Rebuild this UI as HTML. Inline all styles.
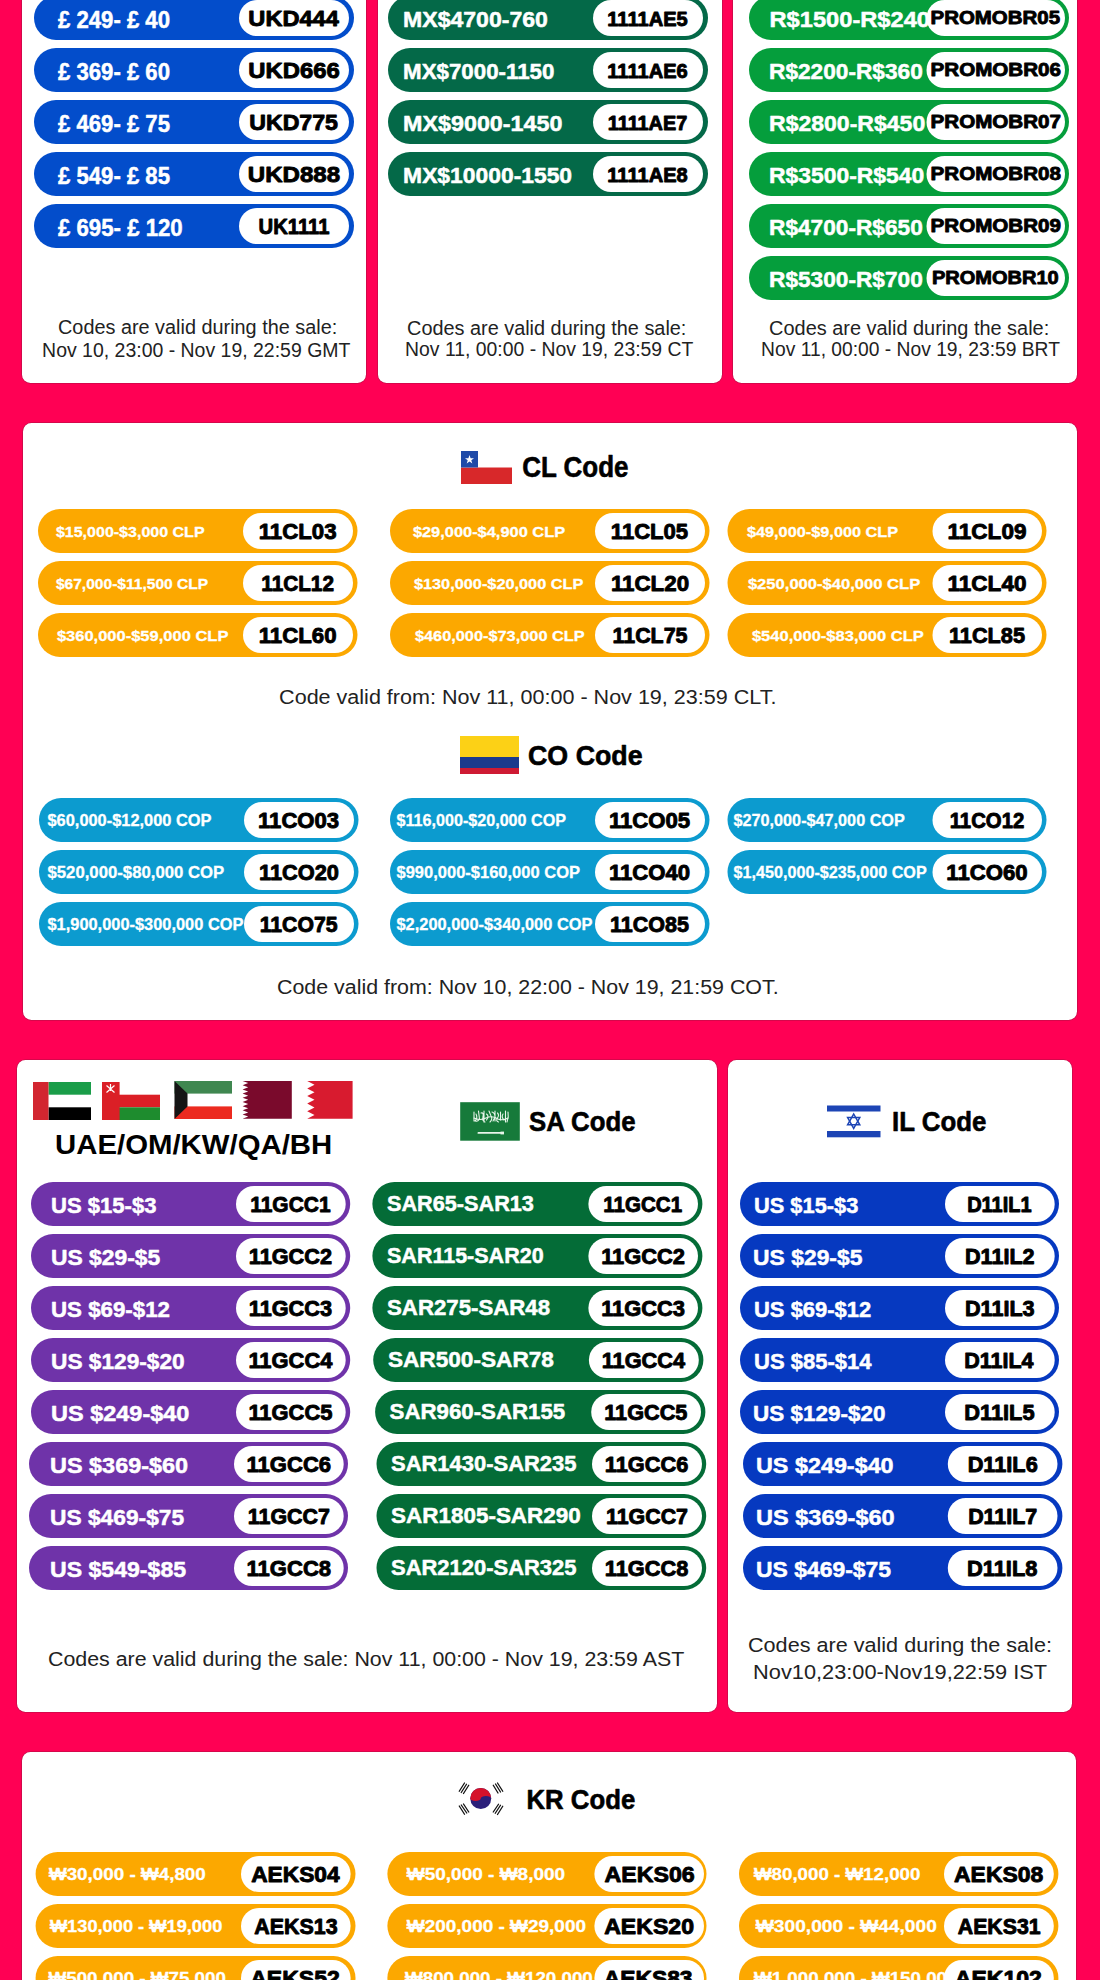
<!DOCTYPE html><html><head><meta charset="utf-8"><style>html,body{margin:0;padding:0;background:#FF0054;}svg{display:block;}text{font-family:"Liberation Sans",sans-serif;}</style></head><body>
<svg width="1100" height="1980" viewBox="0 0 1100 1980">
<rect width="1100" height="1980" fill="#FF0054"/>
<rect x="21.2" y="-30.8" width="345.6" height="414.6" rx="9.3" fill="#C80A48"/>
<rect x="22" y="-30" width="344" height="413" rx="8.5" fill="#fff"/>
<rect x="377.2" y="-30.8" width="345.6" height="414.6" rx="9.3" fill="#C80A48"/>
<rect x="378" y="-30" width="344" height="413" rx="8.5" fill="#fff"/>
<rect x="732.2" y="-30.8" width="345.6" height="414.6" rx="9.3" fill="#C80A48"/>
<rect x="733" y="-30" width="344" height="413" rx="8.5" fill="#fff"/>
<rect x="34.0" y="-4.0" width="320.0" height="44" rx="22.0" fill="#034DCB"/>
<text x="58.0" y="27.6" font-size="24.42" font-weight="700" fill="#fff" textLength="112.0" lengthAdjust="spacingAndGlyphs" stroke="#fff" stroke-width="0.5" stroke-linejoin="round">£ 249- £ 40</text>
<rect x="239.0" y="0.0" width="110.0" height="36" rx="18.0" fill="#fff"/>
<text x="293.6" y="26.0" font-size="22.09" font-weight="700" fill="#000" textLength="90.5" lengthAdjust="spacingAndGlyphs" text-anchor="middle" stroke="#000" stroke-width="0.9" stroke-linejoin="round">UKD444</text>
<rect x="34.0" y="48.0" width="320.0" height="44" rx="22.0" fill="#034DCB"/>
<text x="58.0" y="79.6" font-size="24.42" font-weight="700" fill="#fff" textLength="112.0" lengthAdjust="spacingAndGlyphs" stroke="#fff" stroke-width="0.5" stroke-linejoin="round">£ 369- £ 60</text>
<rect x="239.0" y="52.0" width="110.0" height="36" rx="18.0" fill="#fff"/>
<text x="294.0" y="78.0" font-size="22.09" font-weight="700" fill="#000" textLength="91.4" lengthAdjust="spacingAndGlyphs" text-anchor="middle" stroke="#000" stroke-width="0.9" stroke-linejoin="round">UKD666</text>
<rect x="34.0" y="100.0" width="320.0" height="44" rx="22.0" fill="#034DCB"/>
<text x="58.0" y="131.6" font-size="24.42" font-weight="700" fill="#fff" textLength="112.0" lengthAdjust="spacingAndGlyphs" stroke="#fff" stroke-width="0.5" stroke-linejoin="round">£ 469- £ 75</text>
<rect x="239.0" y="104.0" width="110.0" height="36" rx="18.0" fill="#fff"/>
<text x="293.6" y="130.0" font-size="22.09" font-weight="700" fill="#000" textLength="88.7" lengthAdjust="spacingAndGlyphs" text-anchor="middle" stroke="#000" stroke-width="0.9" stroke-linejoin="round">UKD775</text>
<rect x="34.0" y="152.0" width="320.0" height="44" rx="22.0" fill="#034DCB"/>
<text x="58.0" y="183.6" font-size="24.42" font-weight="700" fill="#fff" textLength="112.0" lengthAdjust="spacingAndGlyphs" stroke="#fff" stroke-width="0.5" stroke-linejoin="round">£ 549- £ 85</text>
<rect x="239.0" y="156.0" width="110.0" height="36" rx="18.0" fill="#fff"/>
<text x="294.0" y="182.0" font-size="22.09" font-weight="700" fill="#000" textLength="92.3" lengthAdjust="spacingAndGlyphs" text-anchor="middle" stroke="#000" stroke-width="0.9" stroke-linejoin="round">UKD888</text>
<rect x="34.0" y="204.0" width="320.0" height="44" rx="22.0" fill="#034DCB"/>
<text x="58.0" y="235.6" font-size="24.42" font-weight="700" fill="#fff" textLength="124.7" lengthAdjust="spacingAndGlyphs" stroke="#fff" stroke-width="0.5" stroke-linejoin="round">£ 695- £ 120</text>
<rect x="239.0" y="208.0" width="110.0" height="36" rx="18.0" fill="#fff"/>
<text x="294.0" y="234.0" font-size="22.09" font-weight="700" fill="#000" textLength="71.0" lengthAdjust="spacingAndGlyphs" text-anchor="middle" stroke="#000" stroke-width="0.9" stroke-linejoin="round">UK1111</text>
<rect x="388.0" y="-4.0" width="320.0" height="44" rx="22.0" fill="#046948"/>
<text x="403.1" y="27.0" font-size="21.37" font-weight="700" fill="#fff" textLength="144.8" lengthAdjust="spacingAndGlyphs" stroke="#fff" stroke-width="0.5" stroke-linejoin="round">MX$4700-760</text>
<rect x="593.0" y="0.0" width="110.0" height="36" rx="18.0" fill="#fff"/>
<text x="647.5" y="25.6" font-size="20.20" font-weight="700" fill="#000" textLength="80.4" lengthAdjust="spacingAndGlyphs" text-anchor="middle" stroke="#000" stroke-width="0.9" stroke-linejoin="round">1111AE5</text>
<rect x="388.0" y="48.0" width="320.0" height="44" rx="22.0" fill="#046948"/>
<text x="403.1" y="79.0" font-size="21.37" font-weight="700" fill="#fff" textLength="151.3" lengthAdjust="spacingAndGlyphs" stroke="#fff" stroke-width="0.5" stroke-linejoin="round">MX$7000-1150</text>
<rect x="593.0" y="52.0" width="110.0" height="36" rx="18.0" fill="#fff"/>
<text x="647.5" y="77.6" font-size="20.20" font-weight="700" fill="#000" textLength="80.4" lengthAdjust="spacingAndGlyphs" text-anchor="middle" stroke="#000" stroke-width="0.9" stroke-linejoin="round">1111AE6</text>
<rect x="388.0" y="100.0" width="320.0" height="44" rx="22.0" fill="#046948"/>
<text x="403.1" y="131.0" font-size="21.37" font-weight="700" fill="#fff" textLength="159.3" lengthAdjust="spacingAndGlyphs" stroke="#fff" stroke-width="0.5" stroke-linejoin="round">MX$9000-1450</text>
<rect x="593.0" y="104.0" width="110.0" height="36" rx="18.0" fill="#fff"/>
<text x="647.5" y="129.6" font-size="20.20" font-weight="700" fill="#000" textLength="79.5" lengthAdjust="spacingAndGlyphs" text-anchor="middle" stroke="#000" stroke-width="0.9" stroke-linejoin="round">1111AE7</text>
<rect x="388.0" y="152.0" width="320.0" height="44" rx="22.0" fill="#046948"/>
<text x="403.1" y="183.0" font-size="21.37" font-weight="700" fill="#fff" textLength="169.0" lengthAdjust="spacingAndGlyphs" stroke="#fff" stroke-width="0.5" stroke-linejoin="round">MX$10000-1550</text>
<rect x="593.0" y="156.0" width="110.0" height="36" rx="18.0" fill="#fff"/>
<text x="647.5" y="181.6" font-size="20.20" font-weight="700" fill="#000" textLength="80.4" lengthAdjust="spacingAndGlyphs" text-anchor="middle" stroke="#000" stroke-width="0.9" stroke-linejoin="round">1111AE8</text>
<rect x="749.0" y="-4.0" width="320.0" height="44" rx="22.0" fill="#059E3C"/>
<text x="769.5" y="26.7" font-size="21.37" font-weight="700" fill="#fff" textLength="160.5" lengthAdjust="spacingAndGlyphs" stroke="#fff" stroke-width="0.5" stroke-linejoin="round">R$1500-R$240</text>
<rect x="926.5" y="0.0" width="138.5" height="36" rx="18.0" fill="#fff"/>
<text x="995.3" y="23.9" font-size="19.04" font-weight="700" fill="#000" textLength="129.5" lengthAdjust="spacingAndGlyphs" text-anchor="middle" stroke="#000" stroke-width="0.9" stroke-linejoin="round">PROMOBR05</text>
<rect x="749.0" y="48.0" width="320.0" height="44" rx="22.0" fill="#059E3C"/>
<text x="769.0" y="78.7" font-size="21.37" font-weight="700" fill="#fff" textLength="153.8" lengthAdjust="spacingAndGlyphs" stroke="#fff" stroke-width="0.5" stroke-linejoin="round">R$2200-R$360</text>
<rect x="926.5" y="52.0" width="138.5" height="36" rx="18.0" fill="#fff"/>
<text x="995.8" y="75.9" font-size="19.04" font-weight="700" fill="#000" textLength="130.4" lengthAdjust="spacingAndGlyphs" text-anchor="middle" stroke="#000" stroke-width="0.9" stroke-linejoin="round">PROMOBR06</text>
<rect x="749.0" y="100.0" width="320.0" height="44" rx="22.0" fill="#059E3C"/>
<text x="769.0" y="130.7" font-size="21.37" font-weight="700" fill="#fff" textLength="156.2" lengthAdjust="spacingAndGlyphs" stroke="#fff" stroke-width="0.5" stroke-linejoin="round">R$2800-R$450</text>
<rect x="926.5" y="104.0" width="138.5" height="36" rx="18.0" fill="#fff"/>
<text x="995.8" y="127.9" font-size="19.04" font-weight="700" fill="#000" textLength="130.4" lengthAdjust="spacingAndGlyphs" text-anchor="middle" stroke="#000" stroke-width="0.9" stroke-linejoin="round">PROMOBR07</text>
<rect x="749.0" y="152.0" width="320.0" height="44" rx="22.0" fill="#059E3C"/>
<text x="769.0" y="182.7" font-size="21.37" font-weight="700" fill="#fff" textLength="155.2" lengthAdjust="spacingAndGlyphs" stroke="#fff" stroke-width="0.5" stroke-linejoin="round">R$3500-R$540</text>
<rect x="926.5" y="156.0" width="138.5" height="36" rx="18.0" fill="#fff"/>
<text x="995.8" y="179.9" font-size="19.04" font-weight="700" fill="#000" textLength="130.4" lengthAdjust="spacingAndGlyphs" text-anchor="middle" stroke="#000" stroke-width="0.9" stroke-linejoin="round">PROMOBR08</text>
<rect x="749.0" y="204.0" width="320.0" height="44" rx="22.0" fill="#059E3C"/>
<text x="769.0" y="234.7" font-size="21.37" font-weight="700" fill="#fff" textLength="153.8" lengthAdjust="spacingAndGlyphs" stroke="#fff" stroke-width="0.5" stroke-linejoin="round">R$4700-R$650</text>
<rect x="926.5" y="208.0" width="138.5" height="36" rx="18.0" fill="#fff"/>
<text x="995.8" y="231.9" font-size="19.04" font-weight="700" fill="#000" textLength="130.4" lengthAdjust="spacingAndGlyphs" text-anchor="middle" stroke="#000" stroke-width="0.9" stroke-linejoin="round">PROMOBR09</text>
<rect x="749.0" y="256.0" width="320.0" height="44" rx="22.0" fill="#059E3C"/>
<text x="769.0" y="286.7" font-size="21.37" font-weight="700" fill="#fff" textLength="153.8" lengthAdjust="spacingAndGlyphs" stroke="#fff" stroke-width="0.5" stroke-linejoin="round">R$5300-R$700</text>
<rect x="926.5" y="260.0" width="138.5" height="36" rx="18.0" fill="#fff"/>
<text x="995.3" y="283.9" font-size="19.04" font-weight="700" fill="#000" textLength="126.8" lengthAdjust="spacingAndGlyphs" text-anchor="middle" stroke="#000" stroke-width="0.9" stroke-linejoin="round">PROMOBR10</text>
<text x="58.0" y="334.0" font-size="19.60" font-weight="400" fill="#222" textLength="279.2" lengthAdjust="spacingAndGlyphs">Codes are valid during the sale:</text>
<text x="42.1" y="356.5" font-size="19.60" font-weight="400" fill="#222" textLength="308.3" lengthAdjust="spacingAndGlyphs">Nov 10, 23:00 - Nov 19, 22:59 GMT</text>
<text x="407.1" y="334.5" font-size="19.60" font-weight="400" fill="#222" textLength="279.3" lengthAdjust="spacingAndGlyphs">Codes are valid during the sale:</text>
<text x="405.1" y="356.3" font-size="19.60" font-weight="400" fill="#222" textLength="288.2" lengthAdjust="spacingAndGlyphs">Nov 11, 00:00 - Nov 19, 23:59 CT</text>
<text x="769.1" y="334.5" font-size="19.60" font-weight="400" fill="#222" textLength="280.1" lengthAdjust="spacingAndGlyphs">Codes are valid during the sale:</text>
<text x="761.1" y="356.3" font-size="19.60" font-weight="400" fill="#222" textLength="298.8" lengthAdjust="spacingAndGlyphs">Nov 11, 00:00 - Nov 19, 23:59 BRT</text>
<rect x="22.2" y="422.2" width="1055.6" height="598.6" rx="9.3" fill="#C80A48"/>
<rect x="23" y="423" width="1054" height="597" rx="8.5" fill="#fff"/>
<g><rect x="461" y="451" width="51" height="33" fill="#fff"/><rect x="461" y="467.5" width="51" height="16.5" fill="#D8282A"/><rect x="461" y="451" width="17" height="16.5" fill="#1F4AA8"/><polygon fill="#fff" points="469.5,455 470.6,458.3 474,458.3 471.3,460.3 472.3,463.5 469.5,461.5 466.7,463.5 467.7,460.3 465,458.3 468.4,458.3"/></g>
<text x="522.2" y="477.3" font-size="28.63" font-weight="700" fill="#000" textLength="106.3" lengthAdjust="spacingAndGlyphs" stroke="#000" stroke-width="0.6" stroke-linejoin="round">CL Code</text>
<rect x="38.0" y="509.0" width="319.5" height="44" rx="22.0" fill="#FCA800"/>
<text x="55.9" y="536.6" font-size="14.68" font-weight="700" fill="#fff" textLength="148.7" lengthAdjust="spacingAndGlyphs" stroke="#fff" stroke-width="0.3" stroke-linejoin="round">$15,000-$3,000 CLP</text>
<rect x="243.0" y="513.0" width="110.0" height="36" rx="18.0" fill="#fff"/>
<text x="297.6" y="539.0" font-size="21.95" font-weight="700" fill="#000" textLength="77.8" lengthAdjust="spacingAndGlyphs" text-anchor="middle" stroke="#000" stroke-width="0.9" stroke-linejoin="round">11CL03</text>
<rect x="38.0" y="561.0" width="319.5" height="44" rx="22.0" fill="#FCA800"/>
<text x="55.9" y="588.6" font-size="14.68" font-weight="700" fill="#fff" textLength="152.3" lengthAdjust="spacingAndGlyphs" stroke="#fff" stroke-width="0.3" stroke-linejoin="round">$67,000-$11,500 CLP</text>
<rect x="243.0" y="565.0" width="110.0" height="36" rx="18.0" fill="#fff"/>
<text x="297.6" y="591.0" font-size="21.95" font-weight="700" fill="#000" textLength="72.7" lengthAdjust="spacingAndGlyphs" text-anchor="middle" stroke="#000" stroke-width="0.9" stroke-linejoin="round">11CL12</text>
<rect x="38.0" y="613.0" width="319.5" height="44" rx="22.0" fill="#FCA800"/>
<text x="56.9" y="640.6" font-size="14.68" font-weight="700" fill="#fff" textLength="171.5" lengthAdjust="spacingAndGlyphs" stroke="#fff" stroke-width="0.3" stroke-linejoin="round">$360,000-$59,000 CLP</text>
<rect x="243.0" y="617.0" width="110.0" height="36" rx="18.0" fill="#fff"/>
<text x="297.6" y="643.0" font-size="21.95" font-weight="700" fill="#000" textLength="77.9" lengthAdjust="spacingAndGlyphs" text-anchor="middle" stroke="#000" stroke-width="0.9" stroke-linejoin="round">11CL60</text>
<rect x="390.0" y="509.0" width="319.5" height="44" rx="22.0" fill="#FCA800"/>
<text x="412.9" y="536.6" font-size="14.68" font-weight="700" fill="#fff" textLength="152.2" lengthAdjust="spacingAndGlyphs" stroke="#fff" stroke-width="0.3" stroke-linejoin="round">$29,000-$4,900 CLP</text>
<rect x="595.0" y="513.0" width="110.0" height="36" rx="18.0" fill="#fff"/>
<text x="649.5" y="539.0" font-size="21.95" font-weight="700" fill="#000" textLength="77.3" lengthAdjust="spacingAndGlyphs" text-anchor="middle" stroke="#000" stroke-width="0.9" stroke-linejoin="round">11CL05</text>
<rect x="390.0" y="561.0" width="319.5" height="44" rx="22.0" fill="#FCA800"/>
<text x="413.9" y="588.6" font-size="14.68" font-weight="700" fill="#fff" textLength="169.5" lengthAdjust="spacingAndGlyphs" stroke="#fff" stroke-width="0.3" stroke-linejoin="round">$130,000-$20,000 CLP</text>
<rect x="595.0" y="565.0" width="110.0" height="36" rx="18.0" fill="#fff"/>
<text x="650.0" y="591.0" font-size="21.95" font-weight="700" fill="#000" textLength="78.2" lengthAdjust="spacingAndGlyphs" text-anchor="middle" stroke="#000" stroke-width="0.9" stroke-linejoin="round">11CL20</text>
<rect x="390.0" y="613.0" width="319.5" height="44" rx="22.0" fill="#FCA800"/>
<text x="414.9" y="640.6" font-size="14.68" font-weight="700" fill="#fff" textLength="169.8" lengthAdjust="spacingAndGlyphs" stroke="#fff" stroke-width="0.3" stroke-linejoin="round">$460,000-$73,000 CLP</text>
<rect x="595.0" y="617.0" width="110.0" height="36" rx="18.0" fill="#fff"/>
<text x="650.0" y="643.0" font-size="21.95" font-weight="700" fill="#000" textLength="75.0" lengthAdjust="spacingAndGlyphs" text-anchor="middle" stroke="#000" stroke-width="0.9" stroke-linejoin="round">11CL75</text>
<rect x="727.5" y="509.0" width="319.0" height="44" rx="22.0" fill="#FCA800"/>
<text x="746.9" y="536.6" font-size="14.68" font-weight="700" fill="#fff" textLength="151.3" lengthAdjust="spacingAndGlyphs" stroke="#fff" stroke-width="0.3" stroke-linejoin="round">$49,000-$9,000 CLP</text>
<rect x="932.5" y="513.0" width="109.5" height="36" rx="18.0" fill="#fff"/>
<text x="987.0" y="539.0" font-size="21.95" font-weight="700" fill="#000" textLength="78.9" lengthAdjust="spacingAndGlyphs" text-anchor="middle" stroke="#000" stroke-width="0.9" stroke-linejoin="round">11CL09</text>
<rect x="727.5" y="561.0" width="319.0" height="44" rx="22.0" fill="#FCA800"/>
<text x="747.9" y="588.6" font-size="14.68" font-weight="700" fill="#fff" textLength="172.4" lengthAdjust="spacingAndGlyphs" stroke="#fff" stroke-width="0.3" stroke-linejoin="round">$250,000-$40,000 CLP</text>
<rect x="932.5" y="565.0" width="109.5" height="36" rx="18.0" fill="#fff"/>
<text x="987.0" y="591.0" font-size="21.95" font-weight="700" fill="#000" textLength="78.9" lengthAdjust="spacingAndGlyphs" text-anchor="middle" stroke="#000" stroke-width="0.9" stroke-linejoin="round">11CL40</text>
<rect x="727.5" y="613.0" width="319.0" height="44" rx="22.0" fill="#FCA800"/>
<text x="751.9" y="640.6" font-size="14.68" font-weight="700" fill="#fff" textLength="171.9" lengthAdjust="spacingAndGlyphs" stroke="#fff" stroke-width="0.3" stroke-linejoin="round">$540,000-$83,000 CLP</text>
<rect x="932.5" y="617.0" width="109.5" height="36" rx="18.0" fill="#fff"/>
<text x="987.0" y="643.0" font-size="21.95" font-weight="700" fill="#000" textLength="76.0" lengthAdjust="spacingAndGlyphs" text-anchor="middle" stroke="#000" stroke-width="0.9" stroke-linejoin="round">11CL85</text>
<text x="279.1" y="704.3" font-size="19.60" font-weight="400" fill="#222" textLength="497.3" lengthAdjust="spacingAndGlyphs">Code valid from: Nov 11, 00:00 - Nov 19, 23:59 CLT.</text>
<g><rect x="460" y="736" width="59" height="21" fill="#FCD116"/><rect x="460" y="757" width="59" height="11" fill="#1B3A8C"/><rect x="460" y="768" width="59" height="6" fill="#CE1A33"/></g>
<text x="528.0" y="765.0" font-size="28.34" font-weight="700" fill="#000" textLength="114.6" lengthAdjust="spacingAndGlyphs" stroke="#000" stroke-width="0.6" stroke-linejoin="round">CO Code</text>
<rect x="39.0" y="798.0" width="319.5" height="44" rx="22.0" fill="#0C9BCF"/>
<text x="47.5" y="825.8" font-size="16.28" font-weight="700" fill="#fff" textLength="164.0" lengthAdjust="spacingAndGlyphs" stroke="#fff" stroke-width="0.3" stroke-linejoin="round">$60,000-$12,000 COP</text>
<rect x="244.0" y="802.0" width="110.0" height="36" rx="18.0" fill="#fff"/>
<text x="298.6" y="828.2" font-size="21.80" font-weight="700" fill="#000" textLength="81.1" lengthAdjust="spacingAndGlyphs" text-anchor="middle" stroke="#000" stroke-width="0.9" stroke-linejoin="round">11CO03</text>
<rect x="39.0" y="850.0" width="319.5" height="44" rx="22.0" fill="#0C9BCF"/>
<text x="47.5" y="877.8" font-size="16.28" font-weight="700" fill="#fff" textLength="176.7" lengthAdjust="spacingAndGlyphs" stroke="#fff" stroke-width="0.3" stroke-linejoin="round">$520,000-$80,000 COP</text>
<rect x="244.0" y="854.0" width="110.0" height="36" rx="18.0" fill="#fff"/>
<text x="299.0" y="880.2" font-size="21.80" font-weight="700" fill="#000" textLength="80.0" lengthAdjust="spacingAndGlyphs" text-anchor="middle" stroke="#000" stroke-width="0.9" stroke-linejoin="round">11CO20</text>
<rect x="39.0" y="902.0" width="319.5" height="44" rx="22.0" fill="#0C9BCF"/>
<text x="47.5" y="929.8" font-size="16.28" font-weight="700" fill="#fff" textLength="195.9" lengthAdjust="spacingAndGlyphs" stroke="#fff" stroke-width="0.3" stroke-linejoin="round">$1,900,000-$300,000 COP</text>
<rect x="244.0" y="906.0" width="110.0" height="36" rx="18.0" fill="#fff"/>
<text x="298.6" y="932.2" font-size="21.80" font-weight="700" fill="#000" textLength="77.8" lengthAdjust="spacingAndGlyphs" text-anchor="middle" stroke="#000" stroke-width="0.9" stroke-linejoin="round">11CO75</text>
<rect x="390.0" y="798.0" width="319.5" height="44" rx="22.0" fill="#0C9BCF"/>
<text x="396.5" y="825.8" font-size="16.28" font-weight="700" fill="#fff" textLength="169.5" lengthAdjust="spacingAndGlyphs" stroke="#fff" stroke-width="0.3" stroke-linejoin="round">$116,000-$20,000 COP</text>
<rect x="595.0" y="802.0" width="110.0" height="36" rx="18.0" fill="#fff"/>
<text x="649.5" y="828.2" font-size="21.80" font-weight="700" fill="#000" textLength="81.2" lengthAdjust="spacingAndGlyphs" text-anchor="middle" stroke="#000" stroke-width="0.9" stroke-linejoin="round">11CO05</text>
<rect x="390.0" y="850.0" width="319.5" height="44" rx="22.0" fill="#0C9BCF"/>
<text x="396.5" y="877.8" font-size="16.28" font-weight="700" fill="#fff" textLength="183.5" lengthAdjust="spacingAndGlyphs" stroke="#fff" stroke-width="0.3" stroke-linejoin="round">$990,000-$160,000 COP</text>
<rect x="595.0" y="854.0" width="110.0" height="36" rx="18.0" fill="#fff"/>
<text x="649.5" y="880.2" font-size="21.80" font-weight="700" fill="#000" textLength="81.2" lengthAdjust="spacingAndGlyphs" text-anchor="middle" stroke="#000" stroke-width="0.9" stroke-linejoin="round">11CO40</text>
<rect x="390.0" y="902.0" width="319.5" height="44" rx="22.0" fill="#0C9BCF"/>
<text x="396.5" y="929.8" font-size="16.28" font-weight="700" fill="#fff" textLength="195.9" lengthAdjust="spacingAndGlyphs" stroke="#fff" stroke-width="0.3" stroke-linejoin="round">$2,200,000-$340,000 COP</text>
<rect x="595.0" y="906.0" width="110.0" height="36" rx="18.0" fill="#fff"/>
<text x="649.5" y="932.2" font-size="21.80" font-weight="700" fill="#000" textLength="78.9" lengthAdjust="spacingAndGlyphs" text-anchor="middle" stroke="#000" stroke-width="0.9" stroke-linejoin="round">11CO85</text>
<rect x="727.5" y="798.0" width="319.0" height="44" rx="22.0" fill="#0C9BCF"/>
<text x="733.5" y="825.8" font-size="16.28" font-weight="700" fill="#fff" textLength="171.3" lengthAdjust="spacingAndGlyphs" stroke="#fff" stroke-width="0.3" stroke-linejoin="round">$270,000-$47,000 COP</text>
<rect x="932.5" y="802.0" width="109.5" height="36" rx="18.0" fill="#fff"/>
<text x="987.0" y="828.2" font-size="21.80" font-weight="700" fill="#000" textLength="74.6" lengthAdjust="spacingAndGlyphs" text-anchor="middle" stroke="#000" stroke-width="0.9" stroke-linejoin="round">11CO12</text>
<rect x="727.5" y="850.0" width="319.0" height="44" rx="22.0" fill="#0C9BCF"/>
<text x="733.5" y="877.8" font-size="16.28" font-weight="700" fill="#fff" textLength="193.2" lengthAdjust="spacingAndGlyphs" stroke="#fff" stroke-width="0.3" stroke-linejoin="round">$1,450,000-$235,000 COP</text>
<rect x="932.5" y="854.0" width="109.5" height="36" rx="18.0" fill="#fff"/>
<text x="987.0" y="880.2" font-size="21.80" font-weight="700" fill="#000" textLength="81.3" lengthAdjust="spacingAndGlyphs" text-anchor="middle" stroke="#000" stroke-width="0.9" stroke-linejoin="round">11CO60</text>
<text x="277.0" y="994.3" font-size="19.60" font-weight="400" fill="#222" textLength="501.6" lengthAdjust="spacingAndGlyphs">Code valid from: Nov 10, 22:00 - Nov 19, 21:59 COT.</text>
<rect x="16.2" y="1059.2" width="701.6" height="653.6" rx="9.3" fill="#C80A48"/>
<rect x="17" y="1060" width="700" height="652" rx="8.5" fill="#fff"/>
<rect x="727.2" y="1059.2" width="345.6" height="653.6" rx="9.3" fill="#C80A48"/>
<rect x="728" y="1060" width="344" height="652" rx="8.5" fill="#fff"/>
<g><rect x="33" y="1082" width="58" height="38" fill="#fff"/><rect x="48.5" y="1082" width="42.5" height="12.7" fill="#1A9D49"/><rect x="48.5" y="1107.3" width="42.5" height="12.7" fill="#000"/><rect x="33" y="1082" width="15.5" height="38" fill="#D22630"/></g>
<g><rect x="102" y="1082" width="58" height="38" fill="#fff"/><rect x="102" y="1094.7" width="58" height="12.6" fill="#DB1F26"/><rect x="102" y="1107.3" width="58" height="12.7" fill="#1E8C2E"/><rect x="102" y="1082" width="17.6" height="38" fill="#DB1F26"/><g stroke="#fff" stroke-width="1.2" fill="none"><path d="M106.5,1085.5 L114.5,1092.5 M114.5,1085.5 L106.5,1092.5 M110.5,1084 L110.5,1091"/></g></g>
<g><rect x="174.5" y="1081" width="57.5" height="38" fill="#fff"/><rect x="174.5" y="1081" width="57.5" height="12.6" fill="#3F8750"/><rect x="174.5" y="1106.4" width="57.5" height="12.6" fill="#EC2A1F"/><polygon points="174.5,1081 187.5,1093.6 187.5,1106.4 174.5,1119" fill="#151515"/></g>
<polygon fill="#7A0A2C" points="291.8,1081 242.60,1081.00 248.20,1083.09 242.60,1085.19 248.20,1087.28 242.60,1089.38 248.20,1091.47 242.60,1093.57 248.20,1095.66 242.60,1097.76 248.20,1099.85 242.60,1101.94 248.20,1104.04 242.60,1106.13 248.20,1108.23 242.60,1110.32 248.20,1112.42 242.60,1114.51 248.20,1116.61 242.60,1118.70 291.8,1118.7"/>
<polygon fill="#D81B2F" points="352.6,1081 307.20,1081.00 314.50,1084.77 307.20,1088.54 314.50,1092.31 307.20,1096.08 314.50,1099.85 307.20,1103.62 314.50,1107.39 307.20,1111.16 314.50,1114.93 307.20,1118.70 352.6,1118.7"/>
<text x="55.1" y="1153.5" font-size="26.89" font-weight="700" fill="#000" textLength="277.1" lengthAdjust="spacingAndGlyphs">UAE/OM/KW/QA/BH</text>
<g><rect x="460.2" y="1102.2" width="59.6" height="38.5" fill="#167A3A"/><g stroke="#E8F5EA" stroke-width="1.1" fill="none" stroke-linecap="round"><path d="M474,1112 l0,9 M476,1114 q2,4 -1,7 M478.5,1111 l1,8 q-2,3 -4,2 M481,1113 q3,-1 2,4 q-1,4 2,5 M484,1111 l0,11 M486.5,1114 q3,2 0,6 M489,1111 l2,5 q2,3 -1,6 M492,1112 q3,1 3,5 l-2,4 M495,1111 l0,10 M497.5,1113 q2,2 0,5 q-2,3 1,4 M500.5,1112 l0,8 M503,1114 q-2,3 1,6 M505.5,1111 l0,11 M508,1112 q1,5 -1,10"/><path d="M474,1118 q6,3 12,0 q6,-3 12,1 q5,2 10,-1"/></g><path d="M478.4,1132.9 L501,1132.9" stroke="#E8F5EA" stroke-width="1.8" stroke-linecap="round"/><rect x="500.5" y="1131.6" width="3.5" height="2.8" fill="#E8F5EA"/></g>
<text x="529.0" y="1131.0" font-size="28.34" font-weight="700" fill="#000" textLength="106.5" lengthAdjust="spacingAndGlyphs" stroke="#000" stroke-width="0.6" stroke-linejoin="round">SA Code</text>
<g><rect x="827" y="1100" width="53.5" height="41" fill="#fff"/><rect x="827" y="1105.5" width="53.5" height="6" fill="#1D45B5"/><rect x="827" y="1131" width="53.5" height="6.3" fill="#1D45B5"/><g fill="none" stroke="#1D45B5" stroke-width="1.5"><polygon points="853.7,1114 859.8,1124.8 847.6,1124.8"/><polygon points="853.7,1128.4 859.8,1117.6 847.6,1117.6"/></g></g>
<text x="892.1" y="1131.0" font-size="28.05" font-weight="700" fill="#000" textLength="94.3" lengthAdjust="spacingAndGlyphs" stroke="#000" stroke-width="0.6" stroke-linejoin="round">IL Code</text>
<rect x="31.0" y="1182.0" width="319.2" height="44" rx="22.0" fill="#6F33A9"/>
<text x="51.0" y="1213.0" font-size="21.95" font-weight="700" fill="#fff" textLength="105.5" lengthAdjust="spacingAndGlyphs" stroke="#fff" stroke-width="0.5" stroke-linejoin="round">US $15-$3</text>
<rect x="236.0" y="1186.0" width="109.7" height="36" rx="18.0" fill="#fff"/>
<text x="290.4" y="1212.3" font-size="22.09" font-weight="700" fill="#000" textLength="80.4" lengthAdjust="spacingAndGlyphs" text-anchor="middle" stroke="#000" stroke-width="0.9" stroke-linejoin="round">11GCC1</text>
<rect x="31.0" y="1234.0" width="319.2" height="44" rx="22.0" fill="#6F33A9"/>
<text x="51.0" y="1265.0" font-size="21.95" font-weight="700" fill="#fff" textLength="109.3" lengthAdjust="spacingAndGlyphs" stroke="#fff" stroke-width="0.5" stroke-linejoin="round">US $29-$5</text>
<rect x="236.0" y="1238.0" width="109.7" height="36" rx="18.0" fill="#fff"/>
<text x="290.4" y="1264.3" font-size="22.09" font-weight="700" fill="#000" textLength="83.3" lengthAdjust="spacingAndGlyphs" text-anchor="middle" stroke="#000" stroke-width="0.9" stroke-linejoin="round">11GCC2</text>
<rect x="31.0" y="1286.0" width="319.2" height="44" rx="22.0" fill="#6F33A9"/>
<text x="51.0" y="1317.0" font-size="21.95" font-weight="700" fill="#fff" textLength="119.0" lengthAdjust="spacingAndGlyphs" stroke="#fff" stroke-width="0.5" stroke-linejoin="round">US $69-$12</text>
<rect x="236.0" y="1290.0" width="109.7" height="36" rx="18.0" fill="#fff"/>
<text x="290.4" y="1316.3" font-size="22.09" font-weight="700" fill="#000" textLength="83.3" lengthAdjust="spacingAndGlyphs" text-anchor="middle" stroke="#000" stroke-width="0.9" stroke-linejoin="round">11GCC3</text>
<rect x="31.0" y="1338.0" width="319.2" height="44" rx="22.0" fill="#6F33A9"/>
<text x="51.0" y="1369.0" font-size="21.95" font-weight="700" fill="#fff" textLength="133.7" lengthAdjust="spacingAndGlyphs" stroke="#fff" stroke-width="0.5" stroke-linejoin="round">US $129-$20</text>
<rect x="236.0" y="1342.0" width="109.7" height="36" rx="18.0" fill="#fff"/>
<text x="290.4" y="1368.3" font-size="22.09" font-weight="700" fill="#000" textLength="84.0" lengthAdjust="spacingAndGlyphs" text-anchor="middle" stroke="#000" stroke-width="0.9" stroke-linejoin="round">11GCC4</text>
<rect x="31.0" y="1390.0" width="319.2" height="44" rx="22.0" fill="#6F33A9"/>
<text x="51.0" y="1421.0" font-size="21.95" font-weight="700" fill="#fff" textLength="138.4" lengthAdjust="spacingAndGlyphs" stroke="#fff" stroke-width="0.5" stroke-linejoin="round">US $249-$40</text>
<rect x="236.0" y="1394.0" width="109.7" height="36" rx="18.0" fill="#fff"/>
<text x="290.4" y="1420.3" font-size="22.09" font-weight="700" fill="#000" textLength="84.0" lengthAdjust="spacingAndGlyphs" text-anchor="middle" stroke="#000" stroke-width="0.9" stroke-linejoin="round">11GCC5</text>
<rect x="29.0" y="1442.0" width="319.0" height="44" rx="22.0" fill="#6F33A9"/>
<text x="50.0" y="1473.0" font-size="21.95" font-weight="700" fill="#fff" textLength="138.1" lengthAdjust="spacingAndGlyphs" stroke="#fff" stroke-width="0.5" stroke-linejoin="round">US $369-$60</text>
<rect x="234.0" y="1446.0" width="109.7" height="36" rx="18.0" fill="#fff"/>
<text x="288.8" y="1472.3" font-size="22.09" font-weight="700" fill="#000" textLength="84.5" lengthAdjust="spacingAndGlyphs" text-anchor="middle" stroke="#000" stroke-width="0.9" stroke-linejoin="round">11GCC6</text>
<rect x="29.0" y="1494.0" width="319.0" height="44" rx="22.0" fill="#6F33A9"/>
<text x="50.0" y="1525.0" font-size="21.95" font-weight="700" fill="#fff" textLength="134.1" lengthAdjust="spacingAndGlyphs" stroke="#fff" stroke-width="0.5" stroke-linejoin="round">US $469-$75</text>
<rect x="234.0" y="1498.0" width="109.7" height="36" rx="18.0" fill="#fff"/>
<text x="288.8" y="1524.3" font-size="22.09" font-weight="700" fill="#000" textLength="82.1" lengthAdjust="spacingAndGlyphs" text-anchor="middle" stroke="#000" stroke-width="0.9" stroke-linejoin="round">11GCC7</text>
<rect x="29.0" y="1546.0" width="319.0" height="44" rx="22.0" fill="#6F33A9"/>
<text x="50.0" y="1577.0" font-size="21.95" font-weight="700" fill="#fff" textLength="136.1" lengthAdjust="spacingAndGlyphs" stroke="#fff" stroke-width="0.5" stroke-linejoin="round">US $549-$85</text>
<rect x="234.0" y="1550.0" width="109.7" height="36" rx="18.0" fill="#fff"/>
<text x="288.8" y="1576.3" font-size="22.09" font-weight="700" fill="#000" textLength="84.5" lengthAdjust="spacingAndGlyphs" text-anchor="middle" stroke="#000" stroke-width="0.9" stroke-linejoin="round">11GCC8</text>
<rect x="372.4" y="1182.0" width="330.0" height="44" rx="22.0" fill="#046C37"/>
<text x="387.0" y="1211.0" font-size="21.37" font-weight="700" fill="#fff" textLength="146.9" lengthAdjust="spacingAndGlyphs" stroke="#fff" stroke-width="0.5" stroke-linejoin="round">SAR65-SAR13</text>
<rect x="588.4" y="1186.0" width="109.6" height="36" rx="18.0" fill="#fff"/>
<text x="642.7" y="1211.8" font-size="21.80" font-weight="700" fill="#000" textLength="78.8" lengthAdjust="spacingAndGlyphs" text-anchor="middle" stroke="#000" stroke-width="0.9" stroke-linejoin="round">11GCC1</text>
<rect x="372.4" y="1234.0" width="330.0" height="44" rx="22.0" fill="#046C37"/>
<text x="387.0" y="1263.0" font-size="21.37" font-weight="700" fill="#fff" textLength="156.6" lengthAdjust="spacingAndGlyphs" stroke="#fff" stroke-width="0.5" stroke-linejoin="round">SAR115-SAR20</text>
<rect x="588.4" y="1238.0" width="109.6" height="36" rx="18.0" fill="#fff"/>
<text x="643.1" y="1263.8" font-size="21.80" font-weight="700" fill="#000" textLength="83.9" lengthAdjust="spacingAndGlyphs" text-anchor="middle" stroke="#000" stroke-width="0.9" stroke-linejoin="round">11GCC2</text>
<rect x="372.4" y="1286.0" width="330.0" height="44" rx="22.0" fill="#046C37"/>
<text x="387.0" y="1315.0" font-size="21.37" font-weight="700" fill="#fff" textLength="163.1" lengthAdjust="spacingAndGlyphs" stroke="#fff" stroke-width="0.5" stroke-linejoin="round">SAR275-SAR48</text>
<rect x="588.4" y="1290.0" width="109.6" height="36" rx="18.0" fill="#fff"/>
<text x="643.1" y="1315.8" font-size="21.80" font-weight="700" fill="#000" textLength="83.9" lengthAdjust="spacingAndGlyphs" text-anchor="middle" stroke="#000" stroke-width="0.9" stroke-linejoin="round">11GCC3</text>
<rect x="373.2" y="1338.0" width="330.2" height="44" rx="22.0" fill="#046C37"/>
<text x="387.9" y="1367.0" font-size="21.37" font-weight="700" fill="#fff" textLength="166.0" lengthAdjust="spacingAndGlyphs" stroke="#fff" stroke-width="0.5" stroke-linejoin="round">SAR500-SAR78</text>
<rect x="588.9" y="1342.0" width="109.9" height="36" rx="18.0" fill="#fff"/>
<text x="643.4" y="1367.8" font-size="21.80" font-weight="700" fill="#000" textLength="83.5" lengthAdjust="spacingAndGlyphs" text-anchor="middle" stroke="#000" stroke-width="0.9" stroke-linejoin="round">11GCC4</text>
<rect x="375.1" y="1390.0" width="330.3" height="44" rx="22.0" fill="#046C37"/>
<text x="389.6" y="1419.0" font-size="21.37" font-weight="700" fill="#fff" textLength="175.6" lengthAdjust="spacingAndGlyphs" stroke="#fff" stroke-width="0.5" stroke-linejoin="round">SAR960-SAR155</text>
<rect x="591.2" y="1394.0" width="109.8" height="36" rx="18.0" fill="#fff"/>
<text x="645.8" y="1419.8" font-size="21.80" font-weight="700" fill="#000" textLength="83.1" lengthAdjust="spacingAndGlyphs" text-anchor="middle" stroke="#000" stroke-width="0.9" stroke-linejoin="round">11GCC5</text>
<rect x="376.5" y="1442.0" width="329.7" height="44" rx="22.0" fill="#046C37"/>
<text x="391.0" y="1471.0" font-size="21.37" font-weight="700" fill="#fff" textLength="185.5" lengthAdjust="spacingAndGlyphs" stroke="#fff" stroke-width="0.5" stroke-linejoin="round">SAR1430-SAR235</text>
<rect x="592.0" y="1446.0" width="110.0" height="36" rx="18.0" fill="#fff"/>
<text x="646.5" y="1471.8" font-size="21.80" font-weight="700" fill="#000" textLength="83.5" lengthAdjust="spacingAndGlyphs" text-anchor="middle" stroke="#000" stroke-width="0.9" stroke-linejoin="round">11GCC6</text>
<rect x="376.5" y="1494.0" width="329.7" height="44" rx="22.0" fill="#046C37"/>
<text x="391.0" y="1523.0" font-size="21.37" font-weight="700" fill="#fff" textLength="189.8" lengthAdjust="spacingAndGlyphs" stroke="#fff" stroke-width="0.5" stroke-linejoin="round">SAR1805-SAR290</text>
<rect x="592.0" y="1498.0" width="110.0" height="36" rx="18.0" fill="#fff"/>
<text x="647.0" y="1523.8" font-size="21.80" font-weight="700" fill="#000" textLength="82.0" lengthAdjust="spacingAndGlyphs" text-anchor="middle" stroke="#000" stroke-width="0.9" stroke-linejoin="round">11GCC7</text>
<rect x="376.5" y="1546.0" width="329.7" height="44" rx="22.0" fill="#046C37"/>
<text x="391.0" y="1575.0" font-size="21.37" font-weight="700" fill="#fff" textLength="185.5" lengthAdjust="spacingAndGlyphs" stroke="#fff" stroke-width="0.5" stroke-linejoin="round">SAR2120-SAR325</text>
<rect x="592.0" y="1550.0" width="110.0" height="36" rx="18.0" fill="#fff"/>
<text x="646.5" y="1575.8" font-size="21.80" font-weight="700" fill="#000" textLength="83.5" lengthAdjust="spacingAndGlyphs" text-anchor="middle" stroke="#000" stroke-width="0.9" stroke-linejoin="round">11GCC8</text>
<rect x="740.0" y="1182.0" width="319.0" height="44" rx="22.0" fill="#0639C0"/>
<text x="754.0" y="1213.4" font-size="22.09" font-weight="700" fill="#fff" textLength="104.3" lengthAdjust="spacingAndGlyphs" stroke="#fff" stroke-width="0.5" stroke-linejoin="round">US $15-$3</text>
<rect x="945.0" y="1186.0" width="109.7" height="36" rx="18.0" fill="#fff"/>
<text x="999.4" y="1212.3" font-size="21.37" font-weight="700" fill="#000" textLength="64.5" lengthAdjust="spacingAndGlyphs" text-anchor="middle" stroke="#000" stroke-width="0.9" stroke-linejoin="round">D11IL1</text>
<rect x="740.0" y="1234.0" width="319.0" height="44" rx="22.0" fill="#0639C0"/>
<text x="753.1" y="1265.4" font-size="22.09" font-weight="700" fill="#fff" textLength="109.3" lengthAdjust="spacingAndGlyphs" stroke="#fff" stroke-width="0.5" stroke-linejoin="round">US $29-$5</text>
<rect x="945.0" y="1238.0" width="109.7" height="36" rx="18.0" fill="#fff"/>
<text x="999.8" y="1264.3" font-size="21.37" font-weight="700" fill="#000" textLength="69.6" lengthAdjust="spacingAndGlyphs" text-anchor="middle" stroke="#000" stroke-width="0.9" stroke-linejoin="round">D11IL2</text>
<rect x="740.0" y="1286.0" width="319.0" height="44" rx="22.0" fill="#0639C0"/>
<text x="754.0" y="1317.4" font-size="22.09" font-weight="700" fill="#fff" textLength="117.3" lengthAdjust="spacingAndGlyphs" stroke="#fff" stroke-width="0.5" stroke-linejoin="round">US $69-$12</text>
<rect x="945.0" y="1290.0" width="109.7" height="36" rx="18.0" fill="#fff"/>
<text x="999.8" y="1316.3" font-size="21.37" font-weight="700" fill="#000" textLength="69.6" lengthAdjust="spacingAndGlyphs" text-anchor="middle" stroke="#000" stroke-width="0.9" stroke-linejoin="round">D11IL3</text>
<rect x="740.0" y="1338.0" width="319.0" height="44" rx="22.0" fill="#0639C0"/>
<text x="754.0" y="1369.4" font-size="22.09" font-weight="700" fill="#fff" textLength="117.5" lengthAdjust="spacingAndGlyphs" stroke="#fff" stroke-width="0.5" stroke-linejoin="round">US $85-$14</text>
<rect x="945.0" y="1342.0" width="109.7" height="36" rx="18.0" fill="#fff"/>
<text x="998.9" y="1368.3" font-size="21.37" font-weight="700" fill="#000" textLength="69.3" lengthAdjust="spacingAndGlyphs" text-anchor="middle" stroke="#000" stroke-width="0.9" stroke-linejoin="round">D11IL4</text>
<rect x="740.0" y="1390.0" width="319.0" height="44" rx="22.0" fill="#0639C0"/>
<text x="753.1" y="1421.4" font-size="22.09" font-weight="700" fill="#fff" textLength="132.4" lengthAdjust="spacingAndGlyphs" stroke="#fff" stroke-width="0.5" stroke-linejoin="round">US $129-$20</text>
<rect x="945.0" y="1394.0" width="109.7" height="36" rx="18.0" fill="#fff"/>
<text x="999.4" y="1420.3" font-size="21.37" font-weight="700" fill="#000" textLength="70.3" lengthAdjust="spacingAndGlyphs" text-anchor="middle" stroke="#000" stroke-width="0.9" stroke-linejoin="round">D11IL5</text>
<rect x="743.0" y="1442.0" width="319.4" height="44" rx="22.0" fill="#0639C0"/>
<text x="756.0" y="1473.4" font-size="22.09" font-weight="700" fill="#fff" textLength="137.6" lengthAdjust="spacingAndGlyphs" stroke="#fff" stroke-width="0.5" stroke-linejoin="round">US $249-$40</text>
<rect x="947.8" y="1446.0" width="109.7" height="36" rx="18.0" fill="#fff"/>
<text x="1002.7" y="1472.3" font-size="21.37" font-weight="700" fill="#000" textLength="70.1" lengthAdjust="spacingAndGlyphs" text-anchor="middle" stroke="#000" stroke-width="0.9" stroke-linejoin="round">D11IL6</text>
<rect x="743.0" y="1494.0" width="319.4" height="44" rx="22.0" fill="#0639C0"/>
<text x="756.0" y="1525.4" font-size="22.09" font-weight="700" fill="#fff" textLength="138.7" lengthAdjust="spacingAndGlyphs" stroke="#fff" stroke-width="0.5" stroke-linejoin="round">US $369-$60</text>
<rect x="947.8" y="1498.0" width="109.7" height="36" rx="18.0" fill="#fff"/>
<text x="1002.7" y="1524.3" font-size="21.37" font-weight="700" fill="#000" textLength="69.1" lengthAdjust="spacingAndGlyphs" text-anchor="middle" stroke="#000" stroke-width="0.9" stroke-linejoin="round">D11IL7</text>
<rect x="743.0" y="1546.0" width="319.4" height="44" rx="22.0" fill="#0639C0"/>
<text x="756.0" y="1577.4" font-size="22.09" font-weight="700" fill="#fff" textLength="135.1" lengthAdjust="spacingAndGlyphs" stroke="#fff" stroke-width="0.5" stroke-linejoin="round">US $469-$75</text>
<rect x="947.8" y="1550.0" width="109.7" height="36" rx="18.0" fill="#fff"/>
<text x="1002.2" y="1576.3" font-size="21.37" font-weight="700" fill="#000" textLength="70.5" lengthAdjust="spacingAndGlyphs" text-anchor="middle" stroke="#000" stroke-width="0.9" stroke-linejoin="round">D11IL8</text>
<text x="48.0" y="1666.0" font-size="20.00" font-weight="400" fill="#222" textLength="636.2" lengthAdjust="spacingAndGlyphs">Codes are valid during the sale: Nov 11, 00:00 - Nov 19, 23:59 AST</text>
<text x="748.0" y="1652.4" font-size="20.50" font-weight="400" fill="#222" textLength="303.9" lengthAdjust="spacingAndGlyphs">Codes are valid during the sale:</text>
<text x="753.1" y="1678.5" font-size="20.50" font-weight="400" fill="#222" textLength="294.0" lengthAdjust="spacingAndGlyphs">Nov10,23:00-Nov19,22:59 IST</text>
<rect x="21.2" y="1751.2" width="1055.6" height="259.6" rx="9.3" fill="#C80A48"/>
<rect x="22" y="1752" width="1054" height="258" rx="8.5" fill="#fff"/>
<g><circle cx="480.75" cy="1798.5" r="10.5" fill="#2B1F7A"/><path d="M470.25,1798.5 A10.5,10.5 0 0 1 491.25,1798.5 A5.25,2.6 0 0 0 480.75,1798.5 A5.25,2.6 0 0 1 470.25,1798.5 Z" fill="#D5112B"/><g stroke="#111" stroke-width="1.3" stroke-linecap="round"><path d="M459.25,1791.25 L464.5,1783 M461.25,1792.5 L466.5,1784.25 M463.5,1793.5 L468.75,1785.25"/><path d="M493.25,1785.25 L498,1793 M495.5,1784 L500.5,1792 M497.5,1783 L502.75,1791.25"/><path d="M459.25,1806 L464.5,1814.25 M461.25,1805 L466.75,1813 M463.5,1804 L468.75,1812"/><path d="M493.25,1812 L498.5,1804.25 M495.25,1813.25 L500.5,1805.25 M497.5,1814.5 L502.75,1806.25"/></g></g>
<text x="526.5" y="1808.7" font-size="27.62" font-weight="700" fill="#000" textLength="108.7" lengthAdjust="spacingAndGlyphs" stroke="#000" stroke-width="0.6" stroke-linejoin="round">KR Code</text>
<rect x="35.6" y="1852.0" width="319.9" height="44" rx="22.0" fill="#FCA800"/>
<text x="48.9" y="1880.2" font-size="16.57" font-weight="700" fill="#fff" textLength="156.9" lengthAdjust="spacingAndGlyphs" stroke="#fff" stroke-width="0.3" stroke-linejoin="round">₩30,000 - ₩4,800</text>
<rect x="241.0" y="1856.0" width="109.6" height="36" rx="18.0" fill="#fff"/>
<text x="295.4" y="1882.3" font-size="22.09" font-weight="700" fill="#000" textLength="88.4" lengthAdjust="spacingAndGlyphs" text-anchor="middle" stroke="#000" stroke-width="0.9" stroke-linejoin="round">AEKS04</text>
<rect x="35.6" y="1904.0" width="319.9" height="44" rx="22.0" fill="#FCA800"/>
<text x="49.9" y="1932.2" font-size="16.57" font-weight="700" fill="#fff" textLength="172.4" lengthAdjust="spacingAndGlyphs" stroke="#fff" stroke-width="0.3" stroke-linejoin="round">₩130,000 - ₩19,000</text>
<rect x="241.0" y="1908.0" width="109.6" height="36" rx="18.0" fill="#fff"/>
<text x="295.9" y="1934.3" font-size="22.09" font-weight="700" fill="#000" textLength="83.3" lengthAdjust="spacingAndGlyphs" text-anchor="middle" stroke="#000" stroke-width="0.9" stroke-linejoin="round">AEKS13</text>
<rect x="35.6" y="1956.0" width="319.9" height="44" rx="22.0" fill="#FCA800"/>
<text x="48.5" y="1984.2" font-size="16.57" font-weight="700" fill="#fff" textLength="177.4" lengthAdjust="spacingAndGlyphs" stroke="#fff" stroke-width="0.3" stroke-linejoin="round">₩500,000 - ₩75,000</text>
<rect x="241.0" y="1960.0" width="109.6" height="36" rx="18.0" fill="#fff"/>
<text x="295.0" y="1986.3" font-size="22.09" font-weight="700" fill="#000" textLength="89.5" lengthAdjust="spacingAndGlyphs" text-anchor="middle" stroke="#000" stroke-width="0.9" stroke-linejoin="round">AEKS52</text>
<rect x="387.4" y="1852.0" width="319.1" height="44" rx="22.0" fill="#FCA800"/>
<text x="406.8" y="1880.2" font-size="16.57" font-weight="700" fill="#fff" textLength="158.3" lengthAdjust="spacingAndGlyphs" stroke="#fff" stroke-width="0.3" stroke-linejoin="round">₩50,000 - ₩8,000</text>
<rect x="594.4" y="1856.0" width="109.6" height="36" rx="18.0" fill="#fff"/>
<text x="649.6" y="1882.3" font-size="22.09" font-weight="700" fill="#000" textLength="90.2" lengthAdjust="spacingAndGlyphs" text-anchor="middle" stroke="#000" stroke-width="0.9" stroke-linejoin="round">AEKS06</text>
<rect x="387.4" y="1904.0" width="319.1" height="44" rx="22.0" fill="#FCA800"/>
<text x="406.8" y="1932.2" font-size="16.57" font-weight="700" fill="#fff" textLength="179.2" lengthAdjust="spacingAndGlyphs" stroke="#fff" stroke-width="0.3" stroke-linejoin="round">₩200,000 - ₩29,000</text>
<rect x="594.4" y="1908.0" width="109.6" height="36" rx="18.0" fill="#fff"/>
<text x="649.1" y="1934.3" font-size="22.09" font-weight="700" fill="#000" textLength="89.8" lengthAdjust="spacingAndGlyphs" text-anchor="middle" stroke="#000" stroke-width="0.9" stroke-linejoin="round">AEKS20</text>
<rect x="387.4" y="1956.0" width="319.1" height="44" rx="22.0" fill="#FCA800"/>
<text x="405.0" y="1984.2" font-size="16.57" font-weight="700" fill="#fff" textLength="187.8" lengthAdjust="spacingAndGlyphs" stroke="#fff" stroke-width="0.3" stroke-linejoin="round">₩800,000 - ₩120,000</text>
<rect x="594.4" y="1960.0" width="109.6" height="36" rx="18.0" fill="#fff"/>
<text x="648.2" y="1986.3" font-size="22.09" font-weight="700" fill="#000" textLength="88.7" lengthAdjust="spacingAndGlyphs" text-anchor="middle" stroke="#000" stroke-width="0.9" stroke-linejoin="round">AEKS83</text>
<rect x="739.0" y="1852.0" width="319.4" height="44" rx="22.0" fill="#FCA800"/>
<text x="753.9" y="1880.2" font-size="16.57" font-weight="700" fill="#fff" textLength="166.5" lengthAdjust="spacingAndGlyphs" stroke="#fff" stroke-width="0.3" stroke-linejoin="round">₩80,000 - ₩12,000</text>
<rect x="944.0" y="1856.0" width="109.8" height="36" rx="18.0" fill="#fff"/>
<text x="998.7" y="1882.3" font-size="22.09" font-weight="700" fill="#000" textLength="89.3" lengthAdjust="spacingAndGlyphs" text-anchor="middle" stroke="#000" stroke-width="0.9" stroke-linejoin="round">AEKS08</text>
<rect x="739.0" y="1904.0" width="319.4" height="44" rx="22.0" fill="#FCA800"/>
<text x="755.8" y="1932.2" font-size="16.57" font-weight="700" fill="#fff" textLength="181.0" lengthAdjust="spacingAndGlyphs" stroke="#fff" stroke-width="0.3" stroke-linejoin="round">₩300,000 - ₩44,000</text>
<rect x="944.0" y="1908.0" width="109.8" height="36" rx="18.0" fill="#fff"/>
<text x="999.2" y="1934.3" font-size="22.09" font-weight="700" fill="#000" textLength="82.8" lengthAdjust="spacingAndGlyphs" text-anchor="middle" stroke="#000" stroke-width="0.9" stroke-linejoin="round">AEKS31</text>
<rect x="739.0" y="1956.0" width="319.4" height="44" rx="22.0" fill="#FCA800"/>
<text x="754.0" y="1984.2" font-size="16.57" font-weight="700" fill="#fff" textLength="203.5" lengthAdjust="spacingAndGlyphs" stroke="#fff" stroke-width="0.3" stroke-linejoin="round">₩1,000,000 - ₩150,000</text>
<rect x="944.0" y="1960.0" width="109.8" height="36" rx="18.0" fill="#fff"/>
<text x="998.3" y="1986.3" font-size="22.09" font-weight="700" fill="#000" textLength="87.1" lengthAdjust="spacingAndGlyphs" text-anchor="middle" stroke="#000" stroke-width="0.9" stroke-linejoin="round">AEK102</text>
</svg></body></html>
